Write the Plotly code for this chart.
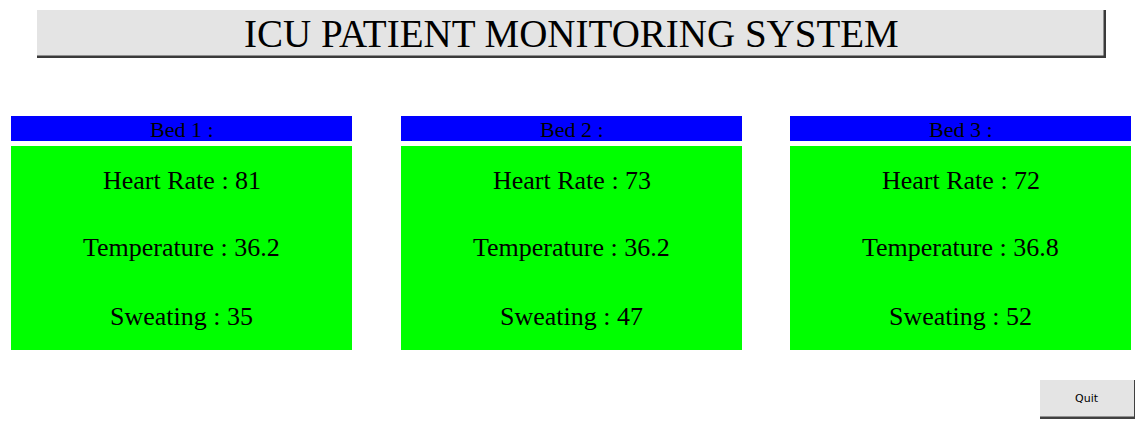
import plotly.graph_objects as go

title = "ICU PATIENT MONITORING SYSTEM"
beds = ["Bed 1 :", "Bed 2 :", "Bed 3 :"]
heart_rate = [81, 73, 72]
temperature = [36.2, 36.2, 36.8]
sweating = [35, 47, 52]
button_label = "Quit"

W, H = 1135, 436
fig = go.Figure()

shapes = []
annotations = []
serif = "Liberation Serif, Times New Roman, serif"

# Title box with shadow
shapes.append(dict(type="rect", x0=37, x1=1106, y0=10, y1=58, fillcolor="#3a3a3a", line=dict(width=0)))
shapes.append(dict(type="rect", x0=37, x1=1103.5, y0=10, y1=55.5, fillcolor="#e4e4e4", line=dict(width=0)))
annotations.append(dict(x=571, y=33, text=title, showarrow=False,
                        font=dict(family=serif, size=39, color="black"),
                        xanchor="center", yanchor="middle"))

panel_x0 = [11, 401, 790]
panel_w = 341
for i, bed in enumerate(beds):
    x0 = panel_x0[i]
    x1 = x0 + panel_w
    cx = (x0 + x1) / 2
    shapes.append(dict(type="rect", x0=x0, x1=x1, y0=116, y1=141, fillcolor="#0000ff", line=dict(width=0)))
    shapes.append(dict(type="rect", x0=x0, x1=x1, y0=146, y1=350, fillcolor="#00ff00", line=dict(width=0)))
    annotations.append(dict(x=cx, y=129, text=bed, showarrow=False,
                            font=dict(family=serif, size=22, color="black"),
                            xanchor="center", yanchor="middle"))
    lines = [f"Heart Rate : {heart_rate[i]}", f"Temperature : {temperature[i]}", f"Sweating : {sweating[i]}"]
    for j, (t, y) in enumerate(zip(lines, [180, 247, 316])):
        annotations.append(dict(x=cx, y=y, text=t, showarrow=False,
                                font=dict(family=serif, size=26, color="black"),
                                xanchor="center", yanchor="middle"))

# Quit button
shapes.append(dict(type="rect", x0=1040, x1=1136, y0=380, y1=419, fillcolor="#404040", line=dict(width=0)))
shapes.append(dict(type="rect", x0=1040, x1=1134, y0=380, y1=416.5, fillcolor="#e4e4e4", line=dict(width=0)))
annotations.append(dict(x=1087, y=398, text=button_label, showarrow=False,
                        font=dict(family="DejaVu Sans, Tahoma, sans-serif", size=11, color="black"),
                        xanchor="center", yanchor="middle"))

fig.update_layout(
    width=W, height=H, margin=dict(l=0, r=0, t=0, b=0),
    paper_bgcolor="white", plot_bgcolor="white",
    xaxis=dict(range=[0, W], visible=False, fixedrange=True),
    yaxis=dict(range=[H, 0], visible=False, fixedrange=True),
    shapes=shapes, annotations=annotations, showlegend=False,
)
fig.write_html("out.html", config={"displayModeBar": False},
               post_script="document.body.style.margin='0';document.body.style.overflow='hidden';")
